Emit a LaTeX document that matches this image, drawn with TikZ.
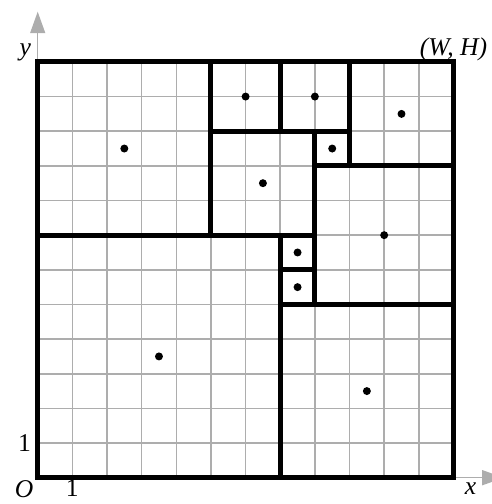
\documentclass[tikz,border=0pt]{standalone}
\usepackage{fontspec}
\setmainfont{Liberation Serif}
\usepackage{tikz}
\usetikzlibrary{arrows.meta,positioning}
\tikzset{
  gridline/.style={draw=black!32, line width=1.3pt},
  axis/.style={draw=black!32, line width=1.3pt, -{Triangle[length=6.2mm,width=4.3mm]}},
  block/.style={draw=black, line width=4.2pt, line join=miter},
  dot/.style={circle, fill=black, minimum size=2.3mm, inner sep=0pt},
  lbl/.style={inner sep=2pt, font=\fontsize{21}{24}\selectfont}
}
\begin{document}
\begin{tikzpicture}[x=1cm,y=1cm]
\useasboundingbox (-1.088,-0.759) rectangle (13.111,13.787);
\coordinate (O) at (0,0);
\coordinate (WH) at (12,12);
\coordinate (xtip) at (13.45,0);
\coordinate (ytip) at (0,13.45);
\coordinate (xone) at (1,0);
\coordinate (yone) at (0,1);
% axes and unit grid
\draw[axis] (O) -- (xtip);
\draw[axis] (O) -- (ytip);
\draw[gridline] (0,0) grid (12,12);
% blocks with their centres
\foreach \xa/\ya/\xb/\yb [count=\i] in {0/7/5/12, 5/10/7/12, 7/10/9/12, 9/9/12/12, 8/9/9/10, 5/7/8/10, 8/5/12/9, 7/6/8/7, 7/5/8/6, 0/0/7/7, 7/0/12/5}{
  \draw[block] (\xa,\ya) rectangle (\xb,\yb);
  \node[dot] (c\i) at ({(\xa+\xb)/2},{(\ya+\yb)/2}) {};
}
\draw[block] (O) rectangle (WH);
% labels
\node[lbl, above=-1pt of WH] (whlbl) {\itshape (W, H)};
\node[lbl, anchor=south east] (ylbl) at (-0.12,11.95) {\itshape y};
\node[lbl, anchor=north west] (xlbl) at (12.25,-0.06) {\itshape x};
\node[lbl, anchor=north east] (olbl) at (-0.05,0.0) {\itshape O};
\node[lbl, below=-1pt of xone] (xonelbl) {1};
\node[lbl, left=0.12cm of yone] (yonelbl) {1};
\end{tikzpicture}
\end{document}
